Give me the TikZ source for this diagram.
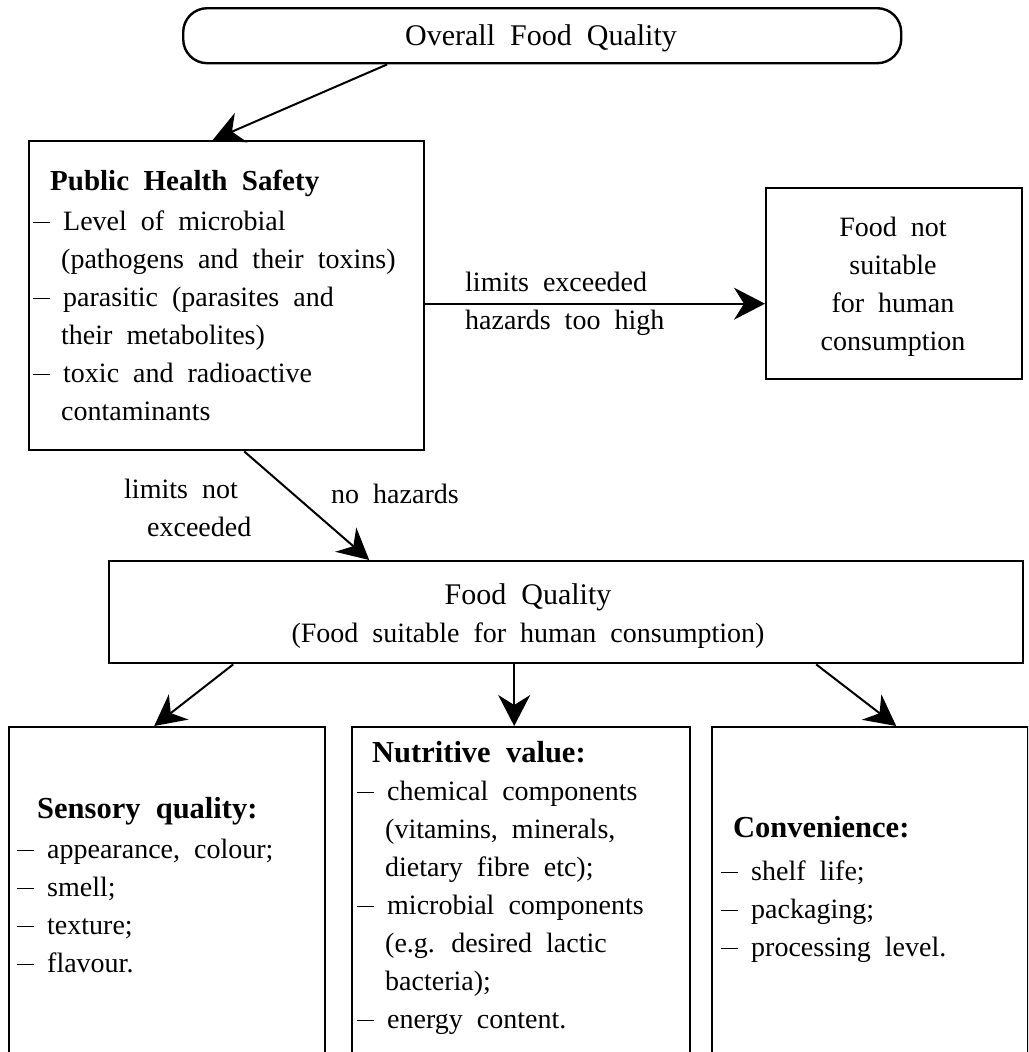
\documentclass[tikz,border=0pt]{standalone}
\usepackage{fontspec}
\setmainfont{Liberation Serif}[WordSpace=2]
\usetikzlibrary{arrows.meta}

% list marker and continuation indent
\newcommand\lmark{\makebox[30pt][l]{\rule[7pt]{17pt}{1.3pt}}}
\newcommand\lcont{\hspace*{28pt}}

% multi-line nodes are placed by the baseline of their last line
\tikzset{
  box/.style={draw, line width=2.4pt, inner sep=0pt, anchor=north west},
  conn/.style={line width=2pt, -{Stealth[length=31pt,width=32pt,inset=10pt]}},
  txt/.style={inner sep=0pt, anchor=base west, align=left, font=\fontsize{28}{38}\selectfont},
  ctxt/.style={inner sep=0pt, anchor=base, align=center, font=\fontsize{28}{38}\selectfont},
  head/.style={inner sep=0pt, anchor=base west, font=\fontsize{29}{38}\selectfont\bfseries},
  bhead/.style={head, font=\fontsize{30.5}{38}\selectfont\bfseries},
  title/.style={inner sep=0pt, anchor=base, font=\fontsize{30}{38}\selectfont},
}

\begin{document}
\begin{tikzpicture}[x=1pt, y=-1pt]
\clip (0,0) rectangle (1028,1052);

% top rounded box
\node[box, rounded corners=24pt, minimum width=718pt, minimum height=55pt] (ov) at (182,7) {};
\node[title] (ovt) at (541,45) {Overall Food Quality};

% public health safety
\node[box, minimum width=395pt, minimum height=309pt] (phs) at (28,140) {};
\node[head] (phsh) at (50,190) {Public Health Safety};
\node[txt] (phsl) at (33,420) {\lmark Level of microbial\\
\lcont(pathogens and their toxins)\\
\lmark parasitic (parasites and\\
\lcont their metabolites)\\
\lmark toxic and radioactive\\
\lcont contaminants};

% not suitable
\node[box, minimum width=256pt, minimum height=191pt] (ns) at (765,187) {};
\node[ctxt] (nst) at (893,350) {Food not\\suitable\\for human\\consumption};

% food quality
\node[box, minimum width=914pt, minimum height=102pt] (fq) at (108,560) {};
\node[title] (fqt) at (528,604) {Food Quality};
\node[ctxt] (fqs) at (528,642) {(Food suitable for human consumption)};

% bottom boxes
\node[box, minimum width=316pt, minimum height=400pt] (sens) at (8,726) {};
\node[box, minimum width=338pt, minimum height=400pt] (nut) at (351,726) {};
\node[box, minimum width=316pt, minimum height=400pt] (conv) at (711,726) {};

\node[bhead] (sensh) at (37,818) {Sensory quality:};
\node[txt] (sensl) at (17,972) {\lmark appearance, colour;\\
\lmark smell;\\
\lmark texture;\\
\lmark flavour.};

\node[bhead] (nuth) at (372,762) {Nutritive value:};
\node[txt] (nutl) at (357,1028) {\lmark chemical components\\
\lcont(vitamins, minerals,\\
\lcont dietary fibre etc);\\
\lmark microbial components\\
\lcont(e.g. desired lactic\\
\lcont bacteria);\\
\lmark energy content.};

\node[bhead] (convh) at (733,837) {Convenience:};
\node[txt] (convl) at (721,956) {\lmark shelf life;\\
\lmark packaging;\\
\lmark processing level.};

% edge labels
\node[txt] (l1) at (465,329) {limits exceeded\\hazards too high};
\node[txt] (l2) at (124,536) {limits not\\\hspace*{23pt}exceeded};
\node[txt] (l3) at (331,503) {no hazards};

% connectors
\coordinate (hz) at ([yshift=-8pt]phs.east);
\draw[conn] ([xshift=-155pt]ov.south) -- ([xshift=-14pt]phs.north);
\draw[conn] (hz) -- (hz -| ns.west);
\draw[conn] ([xshift=17.5pt]phs.south) -- ([xshift=-197pt]fq.north);
\draw[conn] ([xshift=-333pt]fq.south) -- ([xshift=-13pt]sens.north);
\draw[conn] ([xshift=-52pt]fq.south) -- ([xshift=-7pt]nut.north);
\draw[conn] ([xshift=250pt]fq.south) -- ([xshift=26pt]conv.north);
\end{tikzpicture}
\end{document}
